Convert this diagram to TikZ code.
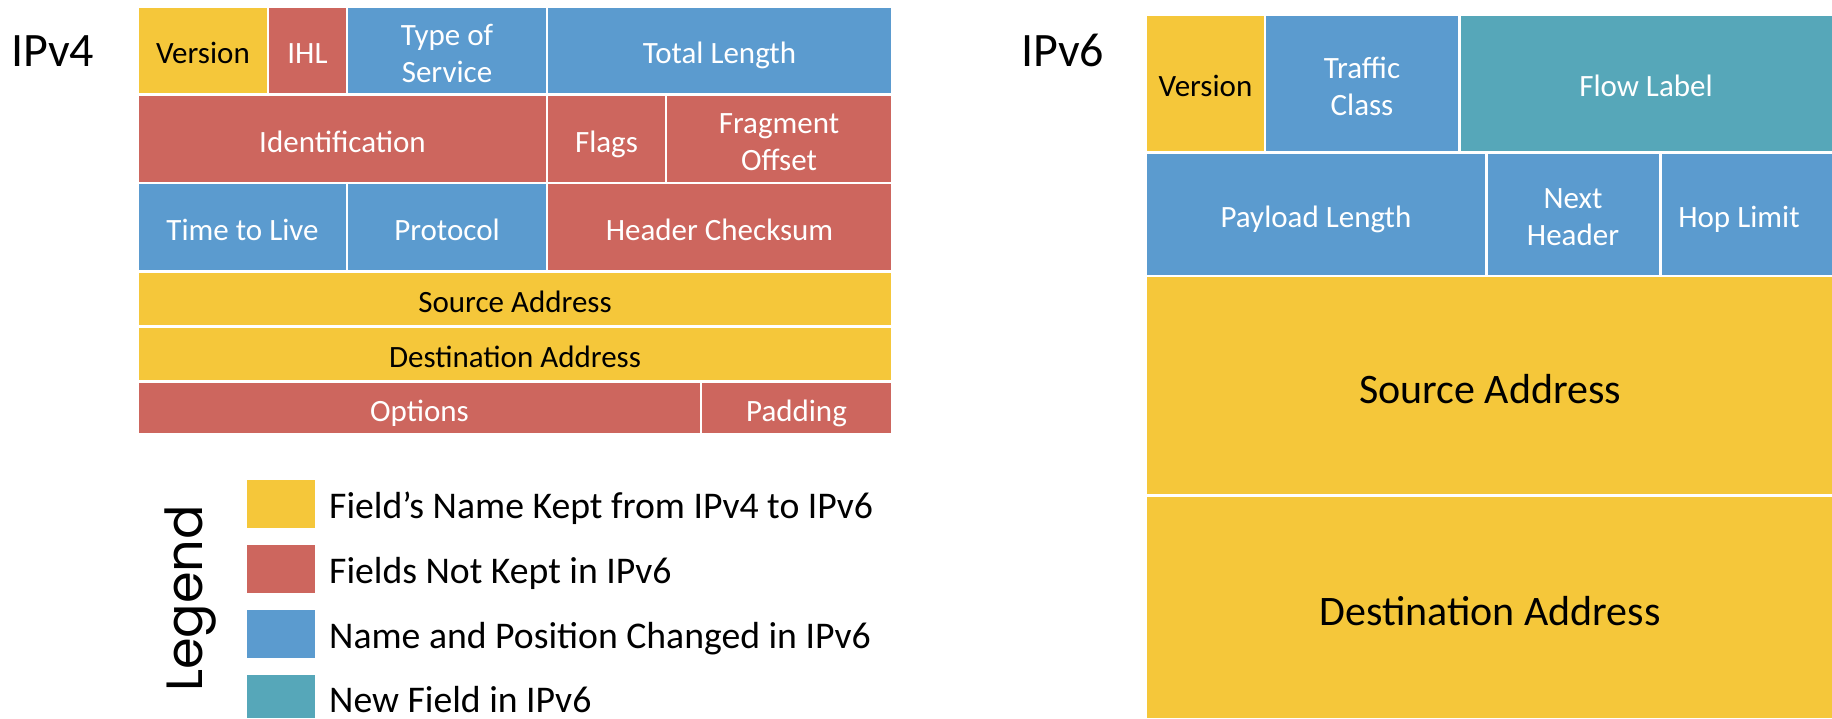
\documentclass[tikz,border=0pt]{standalone}
\usepackage{fontspec}
\setmainfont{Carlito}
\newfontfamily\legendfont{Poppins}
\definecolor{cy}{RGB}{245,199,58}
\definecolor{cr}{RGB}{205,102,94}
\definecolor{cb}{RGB}{91,155,207}
\definecolor{ct}{RGB}{86,167,185}
\newcommand\ctab[1]{\begin{tabular}{@{}c@{}}#1\end{tabular}}
\begin{document}
\begin{tikzpicture}[x=1pt,y=-1pt,
  celltxt/.style={inner sep=0pt, font=\fontsize{31}{37}\selectfont, yshift=-6pt},
  wt/.style={celltxt, text=white},
  bt/.style={celltxt, text=black},
  bigtxt/.style={inner sep=0pt, font=\fontsize{42}{50}\selectfont, yshift=-7.5pt, text=black},
  title/.style={inner sep=0pt, anchor=base west, font=\fontsize{48}{58}\selectfont},
  legtxt/.style={inner sep=0pt, anchor=base west, font=\fontsize{37.7}{44}\selectfont},
]
\useasboundingbox (0,0) rectangle (1832,718);
\fill[white] (0,0) rectangle (1832,718);

% ---------- IPv4 ----------
\node[title] (t4) at (11,66) {IPv4};
% row 1
\fill[cy] (139,8) rectangle (267,93);
\fill[cr] (269,8) rectangle (346,93);
\fill[cb] (348,8) rectangle (546,93);
\fill[cb] (548,8) rectangle (891,93);
\node[bt] (v4ver) at (203,50.5) {\ctab{Version}};
\node[wt] (v4ihl) at (307.5,50.5) {\ctab{IHL}};
\node[wt] (v4tos) at (447,50.5) {\ctab{Type of\\Service}};
\node[wt] (v4tl) at (719.5,50.5) {\ctab{Total Length}};
% row 2
\fill[cr] (139,95.5) rectangle (546,182);
\fill[cr] (548,95.5) rectangle (665,182);
\fill[cr] (667,95.5) rectangle (891,182);
\node[wt] (v4id) at (342.5,139) {\ctab{Identification}};
\node[wt] (v4fl) at (606.5,139) {\ctab{Flags}};
\node[wt] (v4fo) at (779,139) {\ctab{Fragment\\Offset}};
% row 3
\fill[cb] (139,184) rectangle (346,270);
\fill[cb] (348,184) rectangle (546,270);
\fill[cr] (548,184) rectangle (891,270);
\node[wt] (v4ttl) at (242.5,227) {\ctab{Time to Live}};
\node[wt] (v4pr) at (447,227) {\ctab{Protocol}};
\node[wt] (v4hc) at (719.5,227) {\ctab{Header Checksum}};
% rows 4-6
\fill[cy] (139,273) rectangle (891,325);
\fill[cy] (139,328) rectangle (891,380);
\fill[cr] (139,383) rectangle (700,433);
\fill[cr] (702,383) rectangle (891,433);
\node[bt] (v4src) at (515,299) {\ctab{Source Address}};
\node[bt] (v4dst) at (515,354) {\ctab{Destination Address}};
\node[wt] (v4opt) at (419.5,408) {\ctab{Options}};
\node[wt] (v4pad) at (796.5,408) {\ctab{Padding}};

% ---------- Legend ----------
\node[inner sep=0pt, anchor=base west, rotate=90, font=\legendfont\fontsize{51}{60}\selectfont] (leg) at (202,692) {Legend};
\fill[cy] (247,480) rectangle (315,528);
\fill[cr] (247,545) rectangle (315,593);
\fill[cb] (247,610) rectangle (315,658);
\fill[ct] (247,675) rectangle (315,718);
\node[legtxt] (l1) at (329,518) {Field’s Name Kept from IPv4 to IPv6};
\node[legtxt] (l2) at (329,583) {Fields Not Kept in IPv6};
\node[legtxt] (l3) at (329,648) {Name and Position Changed in IPv6};
\node[legtxt] (l4) at (329,712) {New Field in IPv6};

% ---------- IPv6 ----------
\node[title] (t6) at (1021,66) {IPv6};
\fill[cy] (1147,16) rectangle (1264,151);
\fill[cb] (1266,16) rectangle (1458,151);
\fill[ct] (1460.5,16) rectangle (1832,151);
\node[bt] (v6ver) at (1205.5,83.5) {\ctab{Version}};
\node[wt] (v6tc) at (1362,83.5) {\ctab{Traffic\\Class}};
\node[wt] (v6fl) at (1646,83.5) {\ctab{Flow Label}};
\fill[cb] (1147,153.5) rectangle (1485,275);
\fill[cb] (1487.5,153.5) rectangle (1659,275);
\fill[cb] (1661.5,153.5) rectangle (1832,275);
\node[wt] (v6pl) at (1316,214) {\ctab{Payload Length}};
\node[wt] (v6nh) at (1573,214) {\ctab{Next\\Header}};
\node[wt] (v6hl) at (1739,214) {\ctab{Hop Limit}};
\fill[cy] (1147,277) rectangle (1832,494);
\fill[cy] (1147,497) rectangle (1832,718);
\node[bigtxt] (v6src) at (1490,385.5) {\ctab{Source Address}};
\node[bigtxt] (v6dst) at (1490,607.5) {\ctab{Destination Address}};
\end{tikzpicture}
\end{document}
